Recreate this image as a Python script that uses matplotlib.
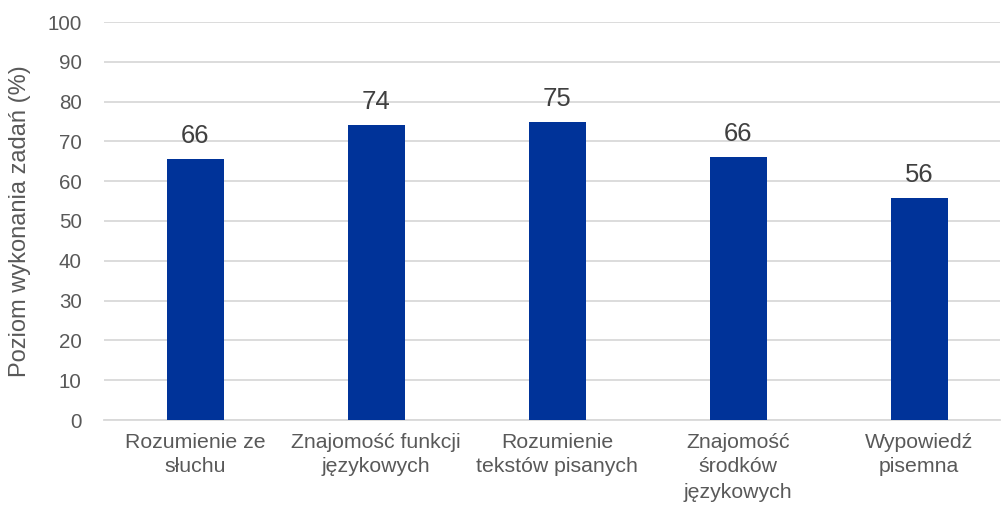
import matplotlib.pyplot as plt

categories = ["Rozumienie ze\nsłuchu", "Znajomość funkcji\njęzykowych", "Rozumienie\ntekstów pisanych",
              "Znajomość\nśrodków\njęzykowych", "Wypowiedź\npisemna"]
values = [65.5, 74, 74.8, 66, 55.8]
labels = ["66", "74", "75", "66", "56"]
yticks = [0, 10, 20, 30, 40, 50, 60, 70, 80, 90, 100]

plt.rcParams['font.family'] = ['Liberation Sans', 'DejaVu Sans']
txt = "#595959"

fig = plt.figure(figsize=(10.03, 5.07), dpi=100)
ax = fig.add_axes([104 / 1003, 87 / 507, 896 / 1003, 398 / 507])

x = list(range(len(categories)))
bars = ax.bar(x, values, width=0.315, color="#003399", zorder=3)
for b, lab in zip(bars, labels):
    ax.annotate(lab, (b.get_x() + b.get_width() / 2, b.get_height()), xytext=(0, 8),
                textcoords="offset points", ha="center", va="bottom", fontsize=18.5, color="#404040")

ax.set_ylim(0, 100)
ax.set_xlim(-0.503, 4.447)
ax.set_yticks(yticks)
ax.set_xticks(x)
ax.set_xticklabels(categories, fontsize=15.3, color=txt, linespacing=1.4)
ax.tick_params(axis="y", labelsize=14.8, labelcolor=txt, length=0, pad=16)
ax.tick_params(axis="x", length=0, pad=9)
ax.grid(axis="y", color="#d9d9d9", linewidth=1.3, zorder=0)
for s in ["top", "right", "left"]:
    ax.spines[s].set_visible(False)
ax.spines["bottom"].set_color("#d9d9d9")
ax.spines["bottom"].set_linewidth(1.3)
ax.set_ylabel("Poziom wykonania zadań (%)", fontsize=17, color=txt)
ax.yaxis.set_label_coords(-73 / 896, 0.5)

fig.savefig("out.png", dpi=100)
